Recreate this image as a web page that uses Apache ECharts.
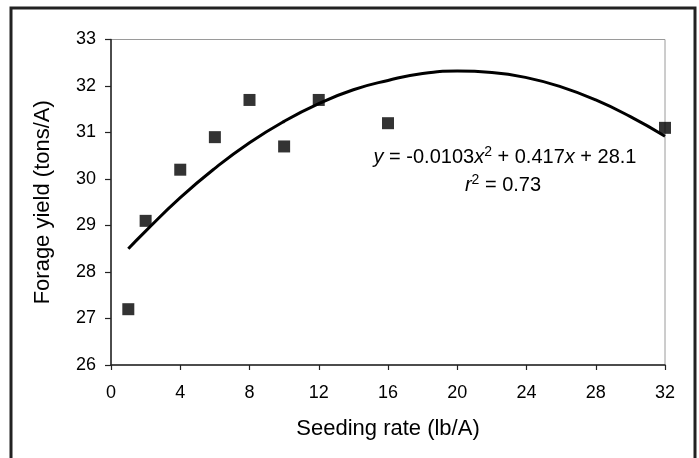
<!DOCTYPE html>
<html>
<head>
<meta charset="utf-8">
<script src="https://cdn.jsdelivr.net/npm/echarts@6/dist/echarts.min.js"></script>
<style>
html,body{margin:0;padding:0;background:#fff;}
#chart{width:699px;height:458px;}
</style>
</head>
<body>
<div id="chart"></div>
<script>
// Observed data (seeding rate lb/A vs forage yield tons/A)
const seedingRates = [1, 2, 4, 6, 8, 10, 12, 16, 32];
const forageYields = [27.2, 29.1, 30.2, 30.9, 31.7, 30.7, 31.7, 31.2, 31.1];

// Fitted curve
const curveX = [1, 2, 4, 6, 8, 10, 12, 14, 16, 18, 20, 22, 24, 26, 28, 30, 32];
const curveY = [28.5, 28.88, 29.6, 30.23, 30.78, 31.24, 31.62, 31.92, 32.12, 32.27, 32.32, 32.29, 32.18, 31.98, 31.7, 31.34, 30.92];

const xTicks = [0, 4, 8, 12, 16, 20, 24, 28, 32];
const yTicks = [26, 27, 28, 29, 30, 31, 32, 33];

const xTitle = 'Seeding rate (lb/A)';
const yTitle = 'Forage yield (tons/A)';

const chart = echarts.init(document.getElementById('chart'), null, {renderer: 'canvas'});
const font = 'Liberation Sans, Arial, sans-serif';

const option = {
  animation: false,
  backgroundColor: '#fff',
  textStyle: {fontFamily: font},
  grid: {
    left: 111, top: 39.5, right: 34, bottom: 93,
    show: true, borderColor: '#9a9a9a', borderWidth: 1, backgroundColor: 'transparent'
  },
  xAxis: {
    type: 'value',
    min: xTicks[0], max: xTicks[xTicks.length - 1], interval: 4,
    name: xTitle, nameLocation: 'middle', nameGap: 53,
    nameTextStyle: {fontSize: 22, color: '#000', fontFamily: font},
    axisLine: {show: true, onZero: false, lineStyle: {color: '#222', width: 1.5}},
    axisTick: {show: true, inside: false, length: 5, lineStyle: {color: '#222', width: 1.2}},
    axisLabel: {fontSize: 18, color: '#000', margin: 19, fontFamily: font},
    splitLine: {show: false}
  },
  yAxis: {
    type: 'value',
    min: yTicks[0], max: yTicks[yTicks.length - 1], interval: 1,
    name: yTitle, nameLocation: 'middle', nameGap: 57,
    nameTextStyle: {fontSize: 22, color: '#000', fontFamily: font},
    axisLine: {show: true, onZero: false, lineStyle: {color: '#222', width: 1.5}},
    axisTick: {show: true, inside: false, length: 6, lineStyle: {color: '#222', width: 1.2}},
    axisLabel: {fontSize: 18, color: '#000', margin: 15, fontFamily: font},
    splitLine: {show: false}
  },
  series: [
    {
      type: 'line',
      data: curveX.map((x, i) => [x, curveY[i]]),
      smooth: true,
      symbol: 'none',
      lineStyle: {color: '#000', width: 3},
      z: 2
    },
    {
      type: 'scatter',
      data: seedingRates.map((x, i) => [x, forageYields[i]]),
      symbol: 'rect',
      symbolSize: 12,
      itemStyle: {color: '#000'},
      z: 3
    }
  ],
  graphic: [
    {
      type: 'rect',
      shape: {x: 11, y: 8, width: 684, height: 470},
      style: {fill: 'none', stroke: '#222', lineWidth: 3},
      silent: true
    },
    {
      type: 'text',
      x: 505, y: 157,
      style: {
        text: '{i|y} = -0.0103{i|x}{s|2} + 0.417{i|x} + 28.1',
        align: 'center', verticalAlign: 'middle',
        fontSize: 20, fontFamily: font, fill: '#000',
        rich: {
          i: {fontStyle: 'italic', fontSize: 20, fontFamily: font},
          s: {fontSize: 14, fontFamily: font, verticalAlign: 'top', padding: [0, 0, 9, 0]}
        }
      }
    },
    {
      type: 'text',
      x: 503, y: 185,
      style: {
        text: '{i|r}{s|2} = 0.73',
        align: 'center', verticalAlign: 'middle',
        fontSize: 20, fontFamily: font, fill: '#000',
        rich: {
          i: {fontStyle: 'italic', fontSize: 20, fontFamily: font},
          s: {fontSize: 14, fontFamily: font, verticalAlign: 'top', padding: [0, 0, 9, 0]}
        }
      }
    }
  ]
};
chart.setOption(option);
</script>
</body>
</html>
